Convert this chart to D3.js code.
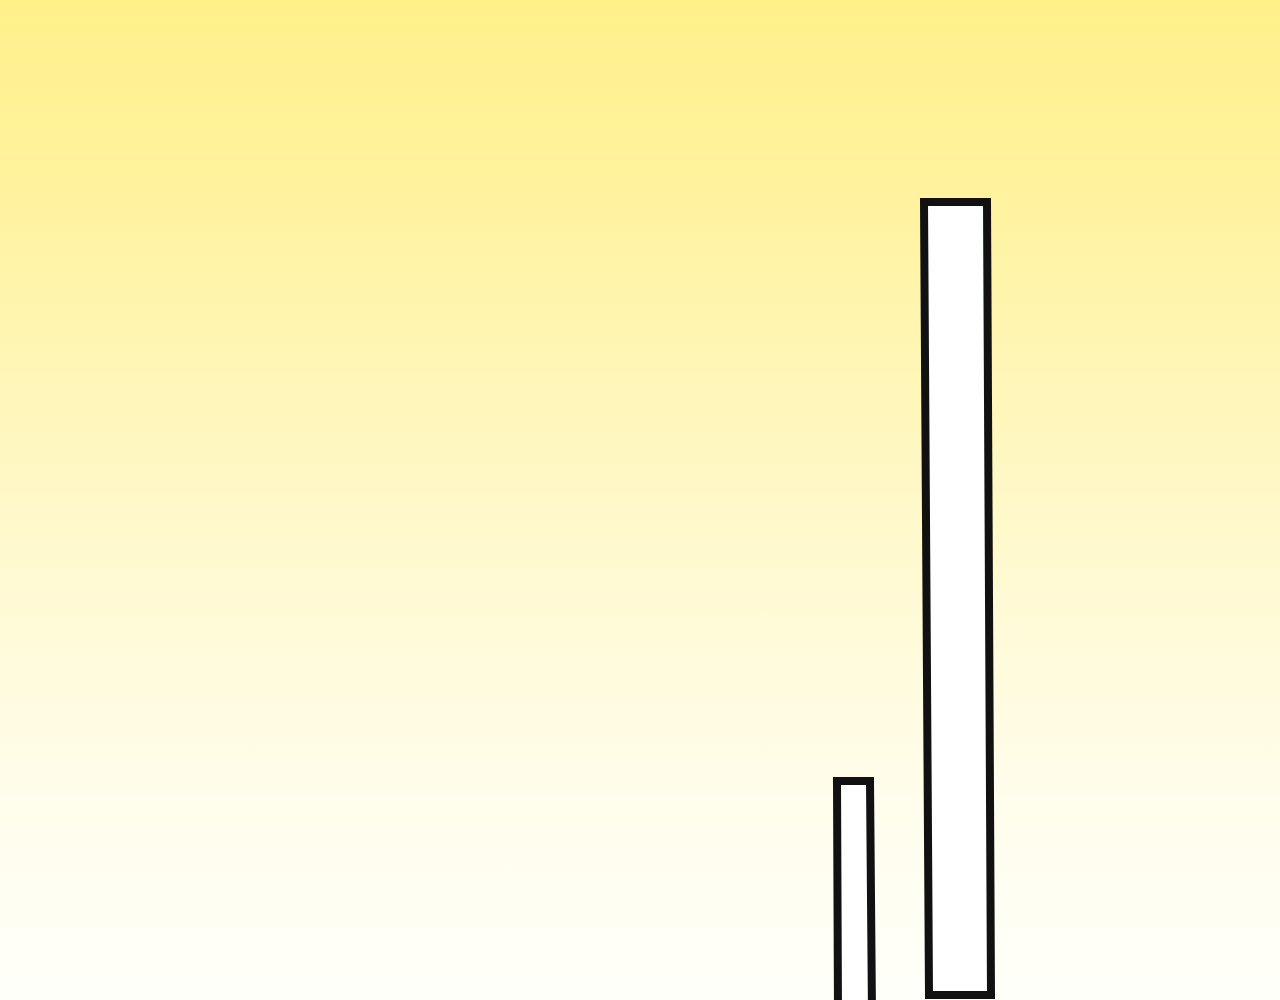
<!DOCTYPE html>
<html>
  <head>
    <title>Two Bars</title>
    <script src="https://d3js.org/d3.v7.min.js"></script>
    <style>
      body { margin: 0; }
      svg { display: block; }
      .bar {
        fill: #ffffff;
        stroke: #111111;
        stroke-width: 8px;
        stroke-linejoin: miter;
      }
    </style>
  </head>
  <body>
    <svg width="1280" height="1000"></svg>
    <script>
      // data, in chart units (x: 0..128, y: 0..100)
      const categories = ["short", "tall"];
      const barTop = [21.9, 79.8];
      const barBottom = [-1.5, 0.5];
      const topLeft = [83.7, 92.4];
      const topRight = [87.0, 98.7];
      const bottomLeft = [83.8, 92.9];
      const bottomRight = [87.2, 99.1];

      const gradientStops = [
        {offset: 0, color: "#fff08a"},
        {offset: 0.2, color: "#fff39f"},
        {offset: 0.4, color: "#fff6ba"},
        {offset: 0.6, color: "#fffad5"},
        {offset: 0.8, color: "#fffdeb"},
        {offset: 1, color: "#fffffa"}
      ];

      function main(){
        const svg = d3.select("svg");
        const width = +svg.attr("width");
        const height = +svg.attr("height");

        const data = categories.map((c, i) => ({
          name: c,
          top: barTop[i],
          bottom: barBottom[i],
          tl: topLeft[i],
          tr: topRight[i],
          bl: bottomLeft[i],
          br: bottomRight[i]
        }));

        const xScale = d3.scaleLinear()
          .domain([0, 128])
          .range([0, width]);

        const yScale = d3.scaleLinear()
          .domain([0, 100])
          .range([height, 0]);

        // background wash
        const grad = svg.append("defs")
          .append("linearGradient")
            .attr("id", "bg")
            .attr("x1", 0).attr("y1", 0)
            .attr("x2", 0).attr("y2", 1);
        grad.selectAll("stop")
          .data(gradientStops)
          .enter().append("stop")
            .attr("offset", d => d.offset)
            .attr("stop-color", d => d.color);

        svg.append("rect")
          .attr("width", width)
          .attr("height", height)
          .attr("fill", "url(#bg)");

        const line = d3.line();

        svg.append("g")
          .selectAll(".bar")
          .data(data)
          .enter().append("path")
            .attr("class", "bar")
            .attr("d", d => line([
              [xScale(d.tl), yScale(d.top)],
              [xScale(d.tr), yScale(d.top)],
              [xScale(d.br), yScale(d.bottom)],
              [xScale(d.bl), yScale(d.bottom)]
            ]) + "Z");
      }
      main();
    </script>
  </body>
</html>
